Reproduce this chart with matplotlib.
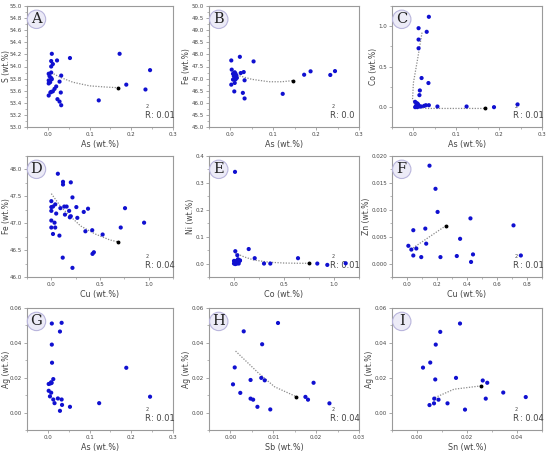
import matplotlib
matplotlib.use("Agg")
import matplotlib.pyplot as plt
from matplotlib.ticker import MultipleLocator, AutoMinorLocator, FormatStrFormatter

# ---- data ----
A_x = [0.0095, 0.008, 0.022, 0.012, 0.008, 0.053, 0.172, 0.245, 0.188, 0.234, 0.122, 0.002, 0.008,
       0.032, 0.004, 0.008, 0.002, 0.0095, 0.0055, 0.002, 0.028, 0.020, 0.016, 0.008, 0.006, 0.002,
       0.031, 0.023, 0.028, 0.032, 0.012]
A_y = [54.21, 54.09, 54.10, 54.04, 54.00, 54.14, 54.21, 53.94, 53.70, 53.62, 53.44, 53.88, 53.90,
       53.85, 53.84, 53.81, 53.77, 53.79, 53.74, 53.72, 53.75, 53.67, 53.63, 53.58, 53.57, 53.52,
       53.57, 53.46, 53.42, 53.36, 53.59]
A_fit_x = [0.008, 0.03, 0.06, 0.10, 0.14, 0.167]
A_fit_y = [53.90, 53.82, 53.74, 53.68, 53.66, 53.65]

B_x = [0.002, 0.022, 0.054, 0.003, 0.010, 0.024, 0.031, 0.008, 0.006, 0.012, 0.015, 0.002, 0.010,
       0.033, 0.009, 0.029, 0.033, 0.122, 0.172, 0.187, 0.233, 0.244, 0.006, 0.012, 0.014]
B_y = [47.75, 47.90, 47.71, 47.37, 47.26, 47.23, 47.27, 47.10, 46.96, 46.97, 47.03, 46.75, 46.82,
       46.93, 46.47, 46.41, 46.18, 46.37, 47.16, 47.30, 47.15, 47.31, 47.20, 47.20, 47.12]
B_fit_x = [0.005, 0.02, 0.05, 0.09, 0.12, 0.147]
B_fit_y = [47.30, 47.12, 46.97, 46.87, 46.87, 46.92]

C_x = [0.036, 0.012, 0.031, 0.012, 0.012, 0.019, 0.035, 0.015, 0.014, 0.004, 0.006, 0.010, 0.014,
       0.009, 0.018, 0.025, 0.029, 0.036, 0.004, 0.056, 0.124, 0.188, 0.243, 0.008, 0.012]
C_y = [1.116, 0.975, 0.93, 0.834, 0.726, 0.357, 0.295, 0.203, 0.145, 0.062, 0.012, 0.037, 0.004,
       -0.004, 0.004, 0.012, 0.02, 0.02, -0.004, 0.004, 0.004, -0.004, 0.03, 0.045, 0.02]
C_fit_x = [0.020, 0.010, 0.0, -0.002, 0.005, 0.03, 0.10, 0.167]
C_fit_y = [0.92, 0.60, 0.30, 0.10, 0.0, -0.02, -0.02, -0.02]

D_x = [0.067, 0.12, 0.12, 0.2, 0.217, 0.0, 0.04, 0.0, 0.017, 0.093, 0.133, 0.157, 0.0, 0.05, 0.14,
       0.183, 0.2, 0.19, 0.257, 0.267, 0.377, 0.333, 0.757, 0.0, 0.033, 0.0, 0.04, 0.017, 0.083,
       0.35, 0.42, 0.527, 0.713, 0.953, 0.117, 0.423, 0.437, 0.217]
D_y = [47.92, 47.77, 47.72, 47.76, 47.48, 47.41, 47.35, 47.30, 47.31, 47.28, 47.31, 47.31, 47.23,
       47.18, 47.16, 47.23, 47.13, 47.11, 47.30, 47.10, 47.27, 47.21, 47.28, 47.05, 47.01, 46.92,
       46.92, 46.80, 46.77, 46.85, 46.87, 46.79, 46.92, 47.01, 46.36, 46.43, 46.46, 46.17]
D_fit_x = [0.0, 0.1, 0.2, 0.3, 0.45, 0.6, 0.69]
D_fit_y = [47.55, 47.30, 47.12, 46.95, 46.80, 46.69, 46.65]

E_x = [0.01, 0.147, 0.013, 0.033, 0.207, 0.64, 0.0, 0.007, 0.023, 0.04, 0.057, 0.0, 0.013, 0.027,
       0.04, 0.047, 0.06, 0.033, 0.3, 0.363, 0.833, 0.933, 1.117]
E_y = [0.341, 0.054, 0.046, 0.031, 0.02, 0.02, 0.01, 0.004, 0.01, 0.016, 0.01, 0.0, -0.002, 0.0,
       0.004, 0.0, 0.012, 0.008, 0.0, 0.0, 0.0, -0.005, 0.001]
E_fit_x = [0.01, 0.1, 0.2, 0.35, 0.5, 0.65, 0.75]
E_fit_y = [0.040, 0.025, 0.013, 0.005, 0.002, 0.001, 0.001]

F_x = [0.15, 0.19, 0.204, 0.423, 0.122, 0.042, 0.71, 0.354, 0.009, 0.029, 0.062, 0.128, 0.042,
       0.095, 0.223, 0.332, 0.44, 0.427, 0.759]
F_y = [0.0182, 0.0139, 0.0096, 0.0084, 0.0065, 0.0062, 0.0071, 0.0046, 0.0033, 0.0026, 0.0028,
       0.0037, 0.0015, 0.0012, 0.0012, 0.0014, 0.0017, 0.0003, 0.0015]
F_fit_x = [0.04, 0.257]
F_fit_y = [0.0029, 0.0070]

G_x = [0.0095, 0.033, 0.029, 0.0095, 0.010, 0.188, 0.013, 0.008, 0.009, 0.006, 0.002, 0.002, 0.008,
       0.005, 0.024, 0.013, 0.033, 0.016, 0.034, 0.053, 0.123, 0.245, 0.029]
G_y = [0.0511, 0.0515, 0.0465, 0.039, 0.0286, 0.0257, 0.0192, 0.0174, 0.0170, 0.0167, 0.0164,
       0.0125, 0.0114, 0.0093, 0.0081, 0.0075, 0.0075, 0.0054, 0.0044, 0.0033, 0.0054, 0.0091,
       0.0010]

H_x = [0.0111, 0.0031, 0.0074, 0.001, 0.0072, 0.0047, 0.008, 0.0194, 0.0006, 0.0023, 0.0047,
       0.0053, 0.0175, 0.0181, 0.0063, 0.0093, 0.0231]
H_y = [0.0514, 0.0466, 0.0392, 0.0259, 0.0199, 0.0187, 0.0185, 0.0171, 0.0162, 0.0113, 0.008,
       0.0074, 0.009, 0.0074, 0.0033, 0.0018, 0.0053]
H_fit_x = [0.0012, 0.0064, 0.0103, 0.0153]
H_fit_y = [0.0353, 0.0230, 0.0148, 0.0092]

I_x = [0.0172, 0.0093, 0.0075, 0.0053, 0.0024, 0.0073, 0.0156, 0.0263, 0.0281, 0.0345, 0.0435,
       0.0069, 0.0086, 0.0275, 0.0122, 0.0068, 0.005, 0.0192]
I_y = [0.0511, 0.0463, 0.039, 0.0287, 0.0258, 0.019, 0.0199, 0.0184, 0.0171, 0.0115, 0.0089,
       0.008, 0.0074, 0.008, 0.0053, 0.0053, 0.0043, 0.0017]
I_fit_x = [0.0072, 0.0148, 0.0255]
I_fit_y = [0.0086, 0.0134, 0.0153]

W, H = 550, 453
fig = plt.figure(figsize=(W / 100, H / 100), dpi=100)

cols = [(27, 173), (209, 359), (392, 542)]
rows = [(6, 127), (156, 277), (308, 430)]

panels = [
    # letter, x, y, fit, xlabel, ylabel, xlim, ylim, xstep, ystep, xfmt, yfmt, r2
    ("A", A_x, A_y, (A_fit_x, A_fit_y), "As", "S", (-0.05, 0.3), (53.0, 55.0), 0.1, 0.2, "%.1f", "%.1f", "0.01"),
    ("B", B_x, B_y, (B_fit_x, B_fit_y), "As", "Fe", (-0.05, 0.3), (45.0, 50.0), 0.1, 0.5, "%.1f", "%.1f", "0.0"),
    ("C", C_x, C_y, (C_fit_x, C_fit_y), "As", "Co", (-0.05, 0.3), (-0.25, 1.25), 0.1, 0.5, "%.1f", "%.1f", "0.01"),
    ("D", D_x, D_y, (D_fit_x, D_fit_y), "Cu", "Fe", (-0.25, 1.25), (46.0, 48.25), 0.5, 0.5, "%.1f", "%.1f", "0.04"),
    ("E", E_x, E_y, (E_fit_x, E_fit_y), "Co", "Ni", (-0.25, 1.25), (-0.05, 0.4), 0.5, 0.1, "%.1f", "%.1f", "0.01"),
    ("F", F_x, F_y, (F_fit_x, F_fit_y), "Cu", "Zn", (-0.1, 0.9), (-0.0025, 0.02), 0.2, 0.005, "%.1f", "%.3f", "0.01"),
    ("G", G_x, G_y, None, "As", "Ag", (-0.05, 0.3), (-0.01, 0.06), 0.1, 0.02, "%.1f", "%.2f", "0.01"),
    ("H", H_x, H_y, (H_fit_x, H_fit_y), "Sb", "Ag", (-0.005, 0.03), (-0.01, 0.06), 0.01, 0.02, "%.2f", "%.2f", "0.04"),
    ("I", I_x, I_y, (I_fit_x, I_fit_y), "Sn", "Ag", (-0.01, 0.05), (-0.01, 0.06), 0.02, 0.02, "%.2f", "%.2f", "0.04"),
]

spine_c = "#9a9a9a"
text_c = "#444444"

for i, (letter, xs, ys, fit, xl, yl, xlim, ylim, xstep, ystep, xfmt, yfmt, r2) in enumerate(panels):
    l, r = cols[i % 3]
    t, b = rows[i // 3]
    ax = fig.add_axes([l / W, 1 - b / H, (r - l) / W, (b - t) / H])
    ax.set_xlim(*xlim)
    ax.set_ylim(*ylim)
    ax.xaxis.set_major_locator(MultipleLocator(xstep))
    ax.yaxis.set_major_locator(MultipleLocator(ystep))
    ax.xaxis.set_minor_locator(AutoMinorLocator(2))
    ax.yaxis.set_minor_locator(AutoMinorLocator(2))
    ax.xaxis.set_major_formatter(FormatStrFormatter(xfmt))
    ax.yaxis.set_major_formatter(FormatStrFormatter(yfmt))
    ax.tick_params(which="major", length=2.5, width=0.6, color=spine_c, labelsize=4.0,
                   labelcolor=text_c, pad=1)
    ax.tick_params(which="minor", length=1.5, width=0.5, color=spine_c)
    for s in ax.spines.values():
        s.set_color(spine_c)
        s.set_linewidth(0.8)

    if fit is not None:
        ax.plot(fit[0], fit[1], linestyle=(0, (1, 1.2)), color="#8a8a8a", linewidth=0.9, zorder=2)
        ax.plot(fit[0][-1], fit[1][-1], marker="o", markersize=1.8, color="black", zorder=3)

    ax.scatter(xs, ys, s=9, color="#1010d0", edgecolors="none", zorder=4)

    ax.set_xlabel(xl + " (wt.%)", fontsize=5.8, color=text_c, labelpad=2)
    ax.set_ylabel(yl + " (wt.%)", fontsize=5.5, color=text_c, labelpad=0.5)
    if i % 3 == 0:
        ax.yaxis.label.set_va("top")
        ax.yaxis.set_label_coords((2 - l) / (r - l), 0.5)

    ax.text(0.065, 0.89, letter, transform=ax.transAxes, fontsize=10.5, family="DejaVu Serif",
            color="#222222", ha="center", va="center",
            bbox=dict(boxstyle="circle,pad=0.15", facecolor="#ecebf7", edgecolor="#b9b5dc",
                      linewidth=0.8))

    ax.text(0.80, 0.06, "R", transform=ax.transAxes, fontsize=6, color=text_c, va="bottom")
    ax.text(0.815, 0.15, "2", transform=ax.transAxes, fontsize=3.5, color=text_c, va="bottom")
    ax.text(0.85, 0.06, ": " + r2, transform=ax.transAxes, fontsize=6, color=text_c, va="bottom")

fig.savefig("out.png", dpi=100, facecolor="white")
